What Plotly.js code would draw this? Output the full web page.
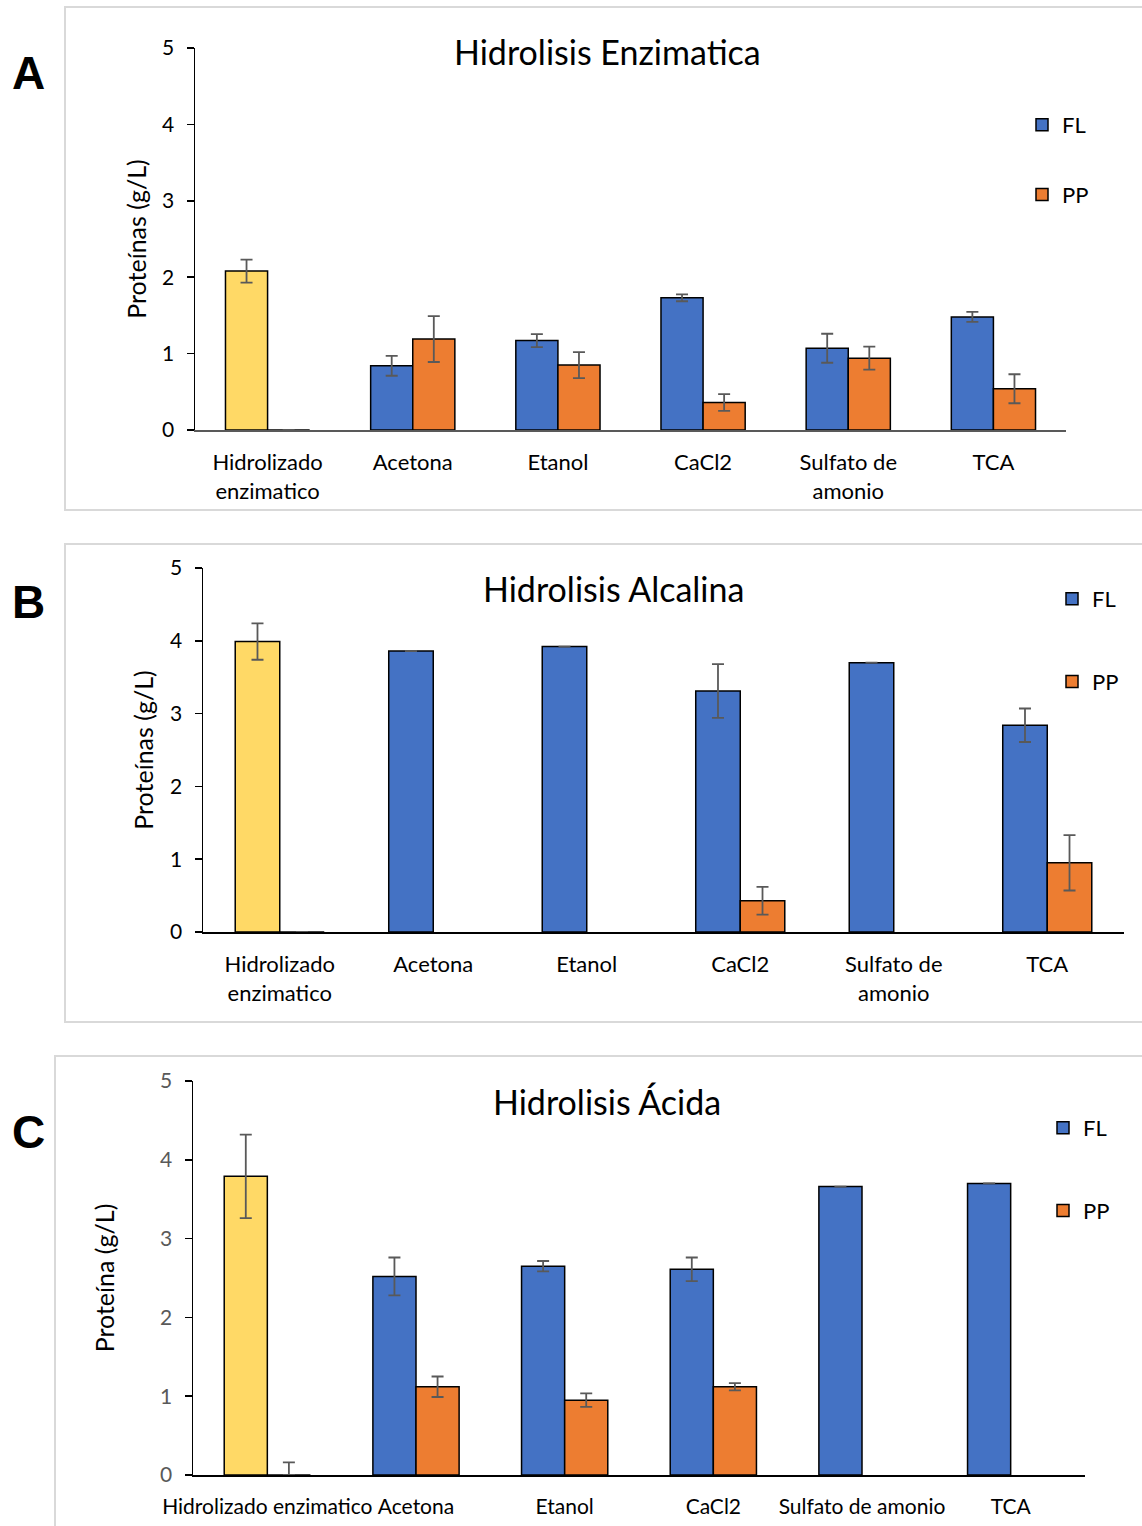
<!DOCTYPE html>
<html><head><meta charset="utf-8">
<script src="https://cdn.plot.ly/plotly-3.0.1.min.js"></script>
<style>html,body{margin:0;padding:0;background:#fff}</style>
</head><body>
<div id="chart" style="width:1142px;height:1526px"></div>
<script>
// ---------- DATA ----------
const categoriesAB = ['Hidrolizado<br>enzimatico', 'Acetona', 'Etanol', 'CaCl2', 'Sulfato de<br>amonio', 'TCA'];
const categoriesC = ['Hidrolizado enzimatico', 'Acetona', 'Etanol', 'CaCl2', 'Sulfato de amonio', 'TCA'];
const seriesNames = ['FL', 'PP'];
const panelTitles = ['Hidrolisis Enzimatica', 'Hidrolisis Alcalina', 'Hidrolisis Ácida'];
const panelLetters = ['A', 'B', 'C'];
const yTitles = ['Proteínas (g/L)', 'Proteínas (g/L)', 'Proteína (g/L)'];
const yTicks = [0, 1, 2, 3, 4, 5];

// Panel A – Hidrolisis Enzimatica
const enzHidrolizado = [2.08];
const enzHidrolizadoErr = [0.15];
const enzFL = [null, 0.84, 1.17, 1.73, 1.07, 1.48];
const enzFLErr = [null, 0.13, 0.085, 0.045, 0.19, 0.065];
const enzPP = [0, 1.19, 0.85, 0.36, 0.94, 0.54];
const enzPPErrUp = [null, 0.30, 0.17, 0.11, 0.15, 0.19];
const enzPPErrDown = [null, 0.30, 0.17, 0.11, 0.15, 0.19];

// Panel B – Hidrolisis Alcalina
const alcHidrolizado = [3.99];
const alcHidrolizadoErr = [0.25];
const alcFL = [null, 3.86, 3.92, 3.31, 3.70, 2.84];
const alcFLErr = [null, null, null, 0.37, null, 0.23];
const alcPP = [0, null, null, 0.43, null, 0.95];
const alcPPErrUp = [null, null, null, 0.19, null, 0.38];
const alcPPErrDown = [null, null, null, 0.19, null, 0.38];

// Panel C – Hidrolisis Ácida
const acidHidrolizado = [3.79];
const acidHidrolizadoErr = [0.53];
const acidFL = [null, 2.52, 2.65, 2.61, 3.66, 3.70];
const acidFLErr = [null, 0.24, 0.066, 0.15, null, null];
const acidPP = [0, 1.12, 0.95, 1.12, null, null];
const acidPPErrUp = [0.16, 0.13, 0.085, 0.045, null, null];
const acidPPErrDown = [0, 0.13, 0.085, 0.045, null, null];

// ---------- STYLE ----------
const W = 1142, H = 1526;
const px = v => v / W;
const py = v => 1 - v / H;
const colFL = '#4472C4', colPP = '#ED7D31', colHid = '#FFD966';
const errCol = '#595959';
const FONT = 'Lato, "Open Sans", sans-serif';

const panels = [
  {cats: categoriesAB, hid: enzHidrolizado, hidErr: enzHidrolizadoErr, fl: enzFL, flErr: enzFLErr, pp: enzPP, ppUp: enzPPErrUp, ppDn: enzPPErrDown,
   xd: [195, 1066], yd: [48, 430], legX: 1022, legY: 104, gap: 38, tickCol: '#000', xLineCol: '#595959', xFont: 22,
   titleX: 607, titleY: 52, letterY: 73, frame: [65, 7, 1145, 510], standoff: 8},
  {cats: categoriesAB, hid: alcHidrolizado, hidErr: alcHidrolizadoErr, fl: alcFL, flErr: alcFLErr, pp: alcPP, ppUp: alcPPErrUp, ppDn: alcPPErrDown,
   xd: [203, 1124], yd: [568, 932], legX: 1052, legY: 578, gap: 51, tickCol: '#000', xLineCol: '#000', xFont: 22,
   titleX: 613, titleY: 589, letterY: 602, frame: [65, 544, 1145, 1022], standoff: 9},
  {cats: categoriesC, hid: acidHidrolizado, hidErr: acidHidrolizadoErr, fl: acidFL, flErr: acidFLErr, pp: acidPP, ppUp: acidPPErrUp, ppDn: acidPPErrDown,
   xd: [193, 1085], yd: [1081, 1475], legX: 1043, legY: 1107, gap: 51, tickCol: '#595959', xLineCol: '#000', xFont: 21,
   titleX: 607, titleY: 1101, letterY: 1132, frame: [55, 1056, 1145, 1540], standoff: 38}
];

const data = [];
const layout = {
  width: W, height: H, margin: {l: 0, r: 0, t: 0, b: 0},
  paper_bgcolor: '#fff', plot_bgcolor: '#fff',
  barmode: 'group', bargap: 0.42, bargroupgap: 0,
  font: {family: FONT, size: 20, color: '#000'},
  showlegend: true, annotations: [], shapes: []
};

panels.forEach((p, i) => {
  const n = i === 0 ? '' : String(i + 1);
  const xa = 'x' + n, ya = 'y' + n;
  const legName = 'legend' + n;
  const lineSpec = {color: '#000', width: 1.5};
  const eb = (arr, arrm) => ({type: 'data', array: arr, arrayminus: arrm || arr, visible: true, color: errCol, thickness: 1.8, width: 6});

  data.push({
    type: 'bar', name: seriesNames[0], x: p.cats, y: p.fl, xaxis: xa, yaxis: ya,
    offsetgroup: 'fl', legend: legName, legendgroup: 'fl' + i,
    marker: {color: colFL, line: lineSpec}, error_y: eb(p.flErr), hoverinfo: 'x+y'
  });
  data.push({
    type: 'bar', name: p.cats[0], x: [p.cats[0]], y: p.hid, xaxis: xa, yaxis: ya,
    offsetgroup: 'fl', legend: legName, showlegend: false,
    marker: {color: colHid, line: lineSpec}, error_y: eb(p.hidErr), hoverinfo: 'x+y'
  });
  data.push({
    type: 'bar', name: seriesNames[1], x: p.cats, y: p.pp, xaxis: xa, yaxis: ya,
    offsetgroup: 'pp', legend: legName, legendgroup: 'pp' + i,
    marker: {color: colPP, line: lineSpec}, error_y: eb(p.ppUp, p.ppDn), hoverinfo: 'x+y'
  });

  layout['xaxis' + n] = {
    domain: [px(p.xd[0]), px(p.xd[1])], anchor: ya, type: 'category',
    showline: true, linecolor: p.xLineCol, linewidth: 1.8, ticks: '', showgrid: false, zeroline: false,
    ticklabelstandoff: 12,
    tickfont: {family: FONT, size: p.xFont, color: '#000'}, fixedrange: true
  };
  layout['yaxis' + n] = {
    domain: [py(p.yd[1]), py(p.yd[0])], anchor: xa, range: [0, 5], tickvals: yTicks,
    showline: true, linecolor: '#000', linewidth: 1.5, ticks: 'outside', ticklen: 7, tickwidth: 1.5, tickcolor: '#000',
    showgrid: false, zeroline: false, fixedrange: true, ticklabelstandoff: 8,
    tickfont: {family: FONT, size: 21, color: p.tickCol},
    title: {text: yTitles[i], font: {family: FONT, size: 25, color: '#000'}, standoff: p.standoff}
  };
  layout[legName] = {
    x: px(p.legX), xanchor: 'left', y: py(p.legY), yanchor: 'top',
    traceorder: 'grouped', tracegroupgap: p.gap, bgcolor: 'rgba(0,0,0,0)',
    font: {family: FONT, size: 22, color: '#000'}, itemwidth: 30
  };
  layout.annotations.push({
    text: panelTitles[i], xref: 'paper', yref: 'paper', x: px(p.titleX), y: py(p.titleY),
    xanchor: 'center', yanchor: 'middle', showarrow: false, font: {family: FONT, size: 34, color: '#000'}
  });
  layout.annotations.push({
    text: '<b>' + panelLetters[i] + '</b>', xref: 'paper', yref: 'paper', x: px(28), y: py(p.letterY),
    xanchor: 'center', yanchor: 'middle', showarrow: false, font: {family: 'Liberation Sans, Arial, sans-serif', size: 46, color: '#000'}
  });
  layout.shapes.push({
    type: 'rect', xref: 'paper', yref: 'paper', x0: px(p.frame[0]), x1: px(p.frame[2]), y0: py(p.frame[3]), y1: py(p.frame[1]),
    line: {color: '#d9d9d9', width: 2}, fillcolor: 'rgba(0,0,0,0)', layer: 'below'
  });
});

Plotly.newPlot('chart', data, layout, {displayModeBar: false, staticPlot: true});
</script>
</body></html>
